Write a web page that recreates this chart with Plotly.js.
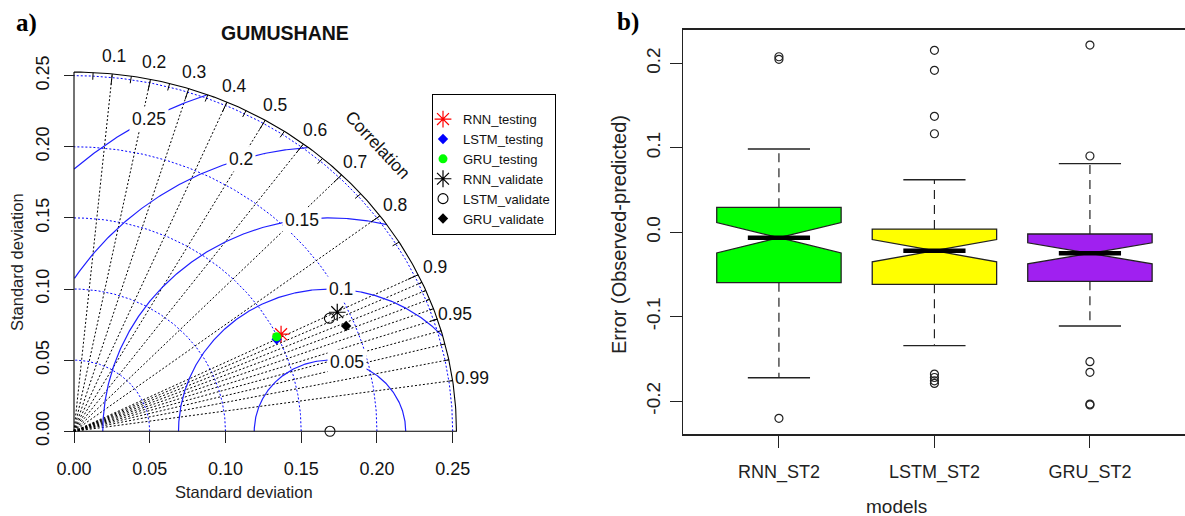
<!DOCTYPE html>
<html><head><meta charset="utf-8">
<script src="https://cdn.plot.ly/plotly-3.0.1.min.js"></script>
<style>html,body{margin:0;padding:0;background:#fff;} #chart{width:1185px;height:516px;}</style>
</head><body><div id="chart"></div>
<script>
// ---------- Panel a) Taylor diagram data ----------
const taylorModels = ['RNN_testing', 'LSTM_testing', 'GRU_testing', 'RNN_validate', 'LSTM_validate', 'GRU_validate'];
const taylorSD   = [0.1528, 0.1486, 0.1494, 0.1929, 0.1864, 0.1943];
const taylorCorr = [0.8947, 0.9003, 0.8955, 0.9010, 0.9047, 0.9246];
const refSD = 0.169;
const maxSD = 0.2525;
const sdTicks = [0, 0.05, 0.10, 0.15, 0.20, 0.25];
const sdTickLabels = ['0.00', '0.05', '0.10', '0.15', '0.20', '0.25'];
const corrLines = [0.1, 0.2, 0.3, 0.4, 0.5, 0.6, 0.7, 0.8, 0.9, 0.91, 0.92, 0.93, 0.94, 0.95, 0.96, 0.97, 0.98, 0.99];
const corrLabels = [0.1, 0.2, 0.3, 0.4, 0.5, 0.6, 0.7, 0.8, 0.9, 0.95, 0.99];
const corrBigTicks = [0.1, 0.2, 0.3, 0.4, 0.5, 0.6, 0.7, 0.8, 0.9];
const corrMedTicks = [0.05, 0.15, 0.25, 0.35, 0.45, 0.55, 0.65, 0.75, 0.85, 0.95];
const corrSmallTicks = [0.91, 0.92, 0.93, 0.94, 0.95, 0.96, 0.97, 0.98, 0.99];
const rmsLevels = [0.05, 0.1, 0.15, 0.2, 0.25];
const rmsLabels = ['0.05', '0.1', '0.15', '0.2', '0.25'];
const sdArcLevels = [0.05, 0.1, 0.15, 0.2, 0.25];

// ---------- Panel b) Boxplot data ----------
const boxModels = ['RNN_ST2', 'LSTM_ST2', 'GRU_ST2'];
const boxQ1 = [-0.0597, -0.0616, -0.0581];
const boxMedian = [-0.0064, -0.0218, -0.0249];
const boxQ3 = [0.0296, 0.0039, -0.0020];
const boxNotch = [0.0180, 0.0132, 0.0125];
const boxLowerWhisker = [-0.1723, -0.1343, -0.1110];
const boxUpperWhisker = [0.0987, 0.0623, 0.0813];
const outliersRNN = [0.2080, 0.2050, -0.2204];
const outliersLSTM = [0.2156, 0.1919, 0.1374, 0.1168, -0.1680, -0.1720, -0.1760, -0.1790];
const outliersGRU = [0.2219, 0.0904, -0.1533, -0.1659, -0.2035, -0.2045];
const boxOutliers = [outliersRNN, outliersLSTM, outliersGRU];
const boxColors = ['#00FF00', '#FFFF00', '#A020F0'];
const boxTickVals = [-0.2, -0.1, 0.0, 0.1, 0.2];
const boxTickText = ['-0.2', '-0.1', '0.0', '0.1', '0.2'];

// ---------- build ----------
const D2R = Math.PI / 180;
const FONT = 'Liberation Sans, Arial, sans-serif';
const traces = [];
function lineTrace(xs, ys, color, width, dash, xa, ya) {
  return {type: 'scatter', mode: 'lines', x: xs, y: ys, line: {color: color, width: width, dash: dash || 'solid'},
    hoverinfo: 'skip', showlegend: false, xaxis: xa || 'x', yaxis: ya || 'y', connectgaps: false};
}

// sd arcs (blue dotted)
(function () {
  const xs = [], ys = [];
  sdArcLevels.forEach(r => {
    for (let a = 0; a <= 90; a += 0.5) { xs.push(r * Math.cos(a * D2R)); ys.push(r * Math.sin(a * D2R)); }
    xs.push(null); ys.push(null);
  });
  traces.push(lineTrace(xs, ys, '#0000FF', 1, '2px,2px'));
})();

// correlation lines (black dotted)
(function () {
  const xs = [], ys = [];
  corrLines.forEach(c => { xs.push(0, maxSD * c, null); ys.push(0, maxSD * Math.sqrt(1 - c * c), null); });
  traces.push(lineTrace(xs, ys, '#000000', 1, '2px,2px'));
})();

// centered RMS arcs (blue solid)
(function () {
  const xs = [], ys = [];
  rmsLevels.forEach(g => {
    let inSeg = false;
    for (let a = 0; a <= 180; a += 0.25) {
      const x = refSD + g * Math.cos(a * D2R), y = g * Math.sin(a * D2R);
      const ok = x >= 0 && (x * x + y * y) <= maxSD * maxSD;
      if (ok) { xs.push(x); ys.push(y); inSeg = true; }
      else if (inSeg) { xs.push(null); ys.push(null); inSeg = false; }
    }
    xs.push(null); ys.push(null);
  });
  traces.push(lineTrace(xs, ys, '#2020FF', 1.2, 'solid'));
})();

// frame: axes lines + outer arc + correlation ticks
(function () {
  const xs = [0, 0, maxSD], ys = [maxSD, 0, 0];
  for (let a = 0; a <= 90; a += 0.5) { xs.push(maxSD * Math.cos(a * D2R)); ys.push(maxSD * Math.sin(a * D2R)); }
  traces.push(lineTrace(xs, ys, '#000000', 1.1, 'solid'));
  const tx = [], ty = [];
  const addTicks = (arr, f) => arr.forEach(c => {
    const s = Math.sqrt(1 - c * c);
    tx.push(maxSD * c, maxSD * f * c, null); ty.push(maxSD * s, maxSD * f * s, null);
  });
  addTicks(corrBigTicks, 0.97); addTicks(corrMedTicks, 0.98); addTicks(corrSmallTicks, 0.99);
  traces.push(lineTrace(tx, ty, '#000000', 1, 'solid'));
})();

// reference point
traces.push({type: 'scatter', mode: 'markers', x: [refSD], y: [0], xaxis: 'x', yaxis: 'y', showlegend: false, hoverinfo: 'skip',
  cliponaxis: false, marker: {symbol: 'circle-open', size: 10, color: '#111', line: {width: 1.1, color: '#111'}}});

// model points
const markerStyles = [
  {symbol: 'asterisk-open', size: 14, color: '#FF0000', line: {color: '#FF0000', width: 1.2}},
  {symbol: 'diamond', size: 8, color: '#0000FF', line: {width: 0}},
  {symbol: 'circle', size: 9, color: '#00FF00', line: {width: 0}},
  {symbol: 'asterisk-open', size: 14, color: '#000000', line: {color: '#000000', width: 1.2}},
  {symbol: 'circle-open', size: 10, color: '#000000', line: {color: '#000000', width: 1.1}},
  {symbol: 'diamond', size: 8, color: '#000000', line: {width: 0}}
];
taylorModels.forEach((m, i) => {
  const c = taylorCorr[i], s = taylorSD[i];
  traces.push({type: 'scatter', mode: 'markers', name: m, x: [s * c], y: [s * Math.sqrt(1 - c * c)],
    xaxis: 'x', yaxis: 'y', marker: markerStyles[i], cliponaxis: false});
});

// ---------- boxplots ----------
boxModels.forEach((m, i) => {
  const pos = i + 1;
  traces.push({type: 'box', orientation: 'v', xaxis: 'x2', yaxis: 'y2', x: [pos],
    q1: [boxQ1[i]], median: [boxMedian[i]], q3: [boxQ3[i]],
    lowerfence: [boxQ1[i]], upperfence: [boxQ3[i]], notchspan: [boxNotch[i]],
    notched: true, notchwidth: 0.5, width: 0.8, whiskerwidth: 0, boxpoints: false,
    fillcolor: boxColors[i], line: {color: '#222', width: 1.3}, showlegend: false, hoverinfo: 'skip'});
});
(function () {
  const wx = [], wy = [], sx = [], sy = [], mx = [], my = [];
  boxModels.forEach((m, i) => {
    const pos = i + 1;
    wx.push(pos, pos, null, pos, pos, null);
    wy.push(boxQ3[i], boxUpperWhisker[i], null, boxQ1[i], boxLowerWhisker[i], null);
    sx.push(pos - 0.2, pos + 0.2, null, pos - 0.2, pos + 0.2, null);
    sy.push(boxUpperWhisker[i], boxUpperWhisker[i], null, boxLowerWhisker[i], boxLowerWhisker[i], null);
    mx.push(pos - 0.2, pos + 0.2, null);
    my.push(boxMedian[i], boxMedian[i], null);
  });
  traces.push(lineTrace(wx, wy, '#222', 1.2, '9px,6px', 'x2', 'y2'));
  traces.push(lineTrace(sx, sy, '#222', 1.3, 'solid', 'x2', 'y2'));
  traces.push(lineTrace(mx, my, '#000', 4.5, 'solid', 'x2', 'y2'));
  const ox = [], oy = [];
  boxOutliers.forEach((arr, i) => arr.forEach(v => { ox.push(i + 1); oy.push(v); }));
  traces.push({type: 'scatter', mode: 'markers', x: ox, y: oy, xaxis: 'x2', yaxis: 'y2', showlegend: false, hoverinfo: 'skip',
    cliponaxis: false, marker: {symbol: 'circle-open', size: 8, color: '#222', line: {width: 1.2, color: '#222'}}});
})();

// ---------- annotations ----------
const annotations = [];
function ann(o) { return Object.assign({showarrow: false, xanchor: 'center', yanchor: 'middle'}, o); }
corrLabels.forEach(c => {
  annotations.push(ann({xref: 'x', yref: 'y', x: 1.05 * maxSD * c, y: 1.05 * maxSD * Math.sqrt(1 - c * c), text: String(c),
    font: {size: 17.5, color: '#111', family: FONT}}));
});
const rmsLabelAngles = [77, 86, 97, 107, 118.5];
rmsLevels.forEach((g, i) => {
  annotations.push(ann({xref: 'x', yref: 'y', x: refSD + g * Math.cos(rmsLabelAngles[i] * D2R), y: g * Math.sin(rmsLabelAngles[i] * D2R),
    text: rmsLabels[i], bgcolor: '#FFFFFF', borderpad: 2, font: {size: 17.5, color: '#111', family: FONT}}));
});
annotations.push(ann({xref: 'x', yref: 'y', x: 0.2007, y: 0.2013, text: 'Correlation', textangle: 47,
  font: {size: 17.5, color: '#111', family: FONT}}));
annotations.push(ann({xref: 'paper', yref: 'paper', x: 285 / 1185, y: 1 - 33 / 516, text: '<b>GUMUSHANE</b>',
  font: {size: 19.5, color: '#111', family: FONT}}));
annotations.push(ann({xref: 'paper', yref: 'paper', x: 244 / 1185, y: 1 - 491.7 / 516, text: 'Standard deviation',
  font: {size: 16.5, color: '#222', family: FONT}}));
annotations.push(ann({xref: 'paper', yref: 'paper', x: 17 / 1185, y: 1 - 262 / 516, text: 'Standard deviation', textangle: -90,
  font: {size: 16.5, color: '#222', family: FONT}}));
annotations.push(ann({xref: 'paper', yref: 'paper', x: 26 / 1185, y: 1 - 23 / 516, text: '<b>a)</b>',
  font: {size: 25, color: '#000', family: 'Liberation Serif, Times New Roman, serif'}}));
annotations.push(ann({xref: 'paper', yref: 'paper', x: 628 / 1185, y: 1 - 22 / 516, text: '<b>b)</b>',
  font: {size: 25, color: '#000', family: 'Liberation Serif, Times New Roman, serif'}}));
annotations.push(ann({xref: 'paper', yref: 'paper', x: 619 / 1185, y: 1 - 235 / 516, text: 'Error (Observed-predicted)', textangle: -90,
  font: {size: 20, color: '#222', family: FONT}}));
annotations.push(ann({xref: 'paper', yref: 'paper', x: 896 / 1185, y: 1 - 506.7 / 516, text: 'models',
  font: {size: 19, color: '#222', family: FONT}}));

const layout = {
  width: 1185, height: 516, margin: {l: 0, r: 0, t: 0, b: 0},
  paper_bgcolor: '#FFFFFF', plot_bgcolor: 'rgba(0,0,0,0)', showlegend: true,
  font: {family: FONT, color: '#222'},
  xaxis: {domain: [58.85 / 1185, 498.1 / 1185], range: [-0.01, 0.28], anchor: 'free', position: 1 - 431.3 / 516,
    tickvals: sdTicks, ticktext: sdTickLabels, ticks: 'outside', ticklen: 11, tickcolor: '#222', tickwidth: 1,
    showgrid: false, zeroline: false, showline: false, tickfont: {size: 18, color: '#111'}, ticklabelstandoff: 10, fixedrange: true},
  yaxis: {domain: [1 - 445.5 / 516, 1 - 33.0 / 516], range: [-0.01, 0.28], anchor: 'free', position: 74 / 1185,
    tickvals: sdTicks, ticktext: sdTickLabels, ticks: 'outside', ticklen: 10, tickcolor: '#222', tickwidth: 1, tickangle: -90,
    showgrid: false, zeroline: false, showline: false, tickfont: {size: 18, color: '#111'}, ticklabelstandoff: 8, fixedrange: true},
  xaxis2: {domain: [683.3 / 1185, 1], range: [0.385, 0.385 + (1185 - 683.3) / 155.5], anchor: 'y2',
    tickvals: [1, 2, 3], ticktext: boxModels, ticks: 'outside', ticklen: 12, tickcolor: '#222', tickwidth: 1,
    showgrid: false, zeroline: false, showline: true, mirror: true, linecolor: '#222', linewidth: 1.3,
    tickfont: {size: 18, color: '#222', family: FONT}, ticklabelstandoff: 9},
  yaxis2: {domain: [1 - 434.3 / 516, 1 - 29.5 / 516], range: [-0.2393, 0.2403], anchor: 'x2',
    tickvals: boxTickVals, ticktext: boxTickText, ticks: 'outside', ticklen: 12, tickcolor: '#222', tickwidth: 1, tickangle: -90,
    showgrid: false, zeroline: false, showline: true, mirror: true, linecolor: '#222', linewidth: 1.3,
    tickfont: {size: 19, color: '#222'}, ticklabelstandoff: 2},
  legend: {x: 432 / 1185, y: 1 - 94 / 516, xanchor: 'left', yanchor: 'top', bordercolor: '#000', borderwidth: 1,
    bgcolor: '#FFFFFF', font: {size: 13, color: '#111', family: FONT}, itemwidth: 30, tracegroupgap: 0, indentation: -10,
    title: {text: '&nbsp;', font: {size: 7}}},
  annotations: annotations,
  boxmode: 'overlay'
};
Plotly.newPlot('chart', traces, layout, {staticPlot: true, displayModeBar: false});
</script></body></html>
